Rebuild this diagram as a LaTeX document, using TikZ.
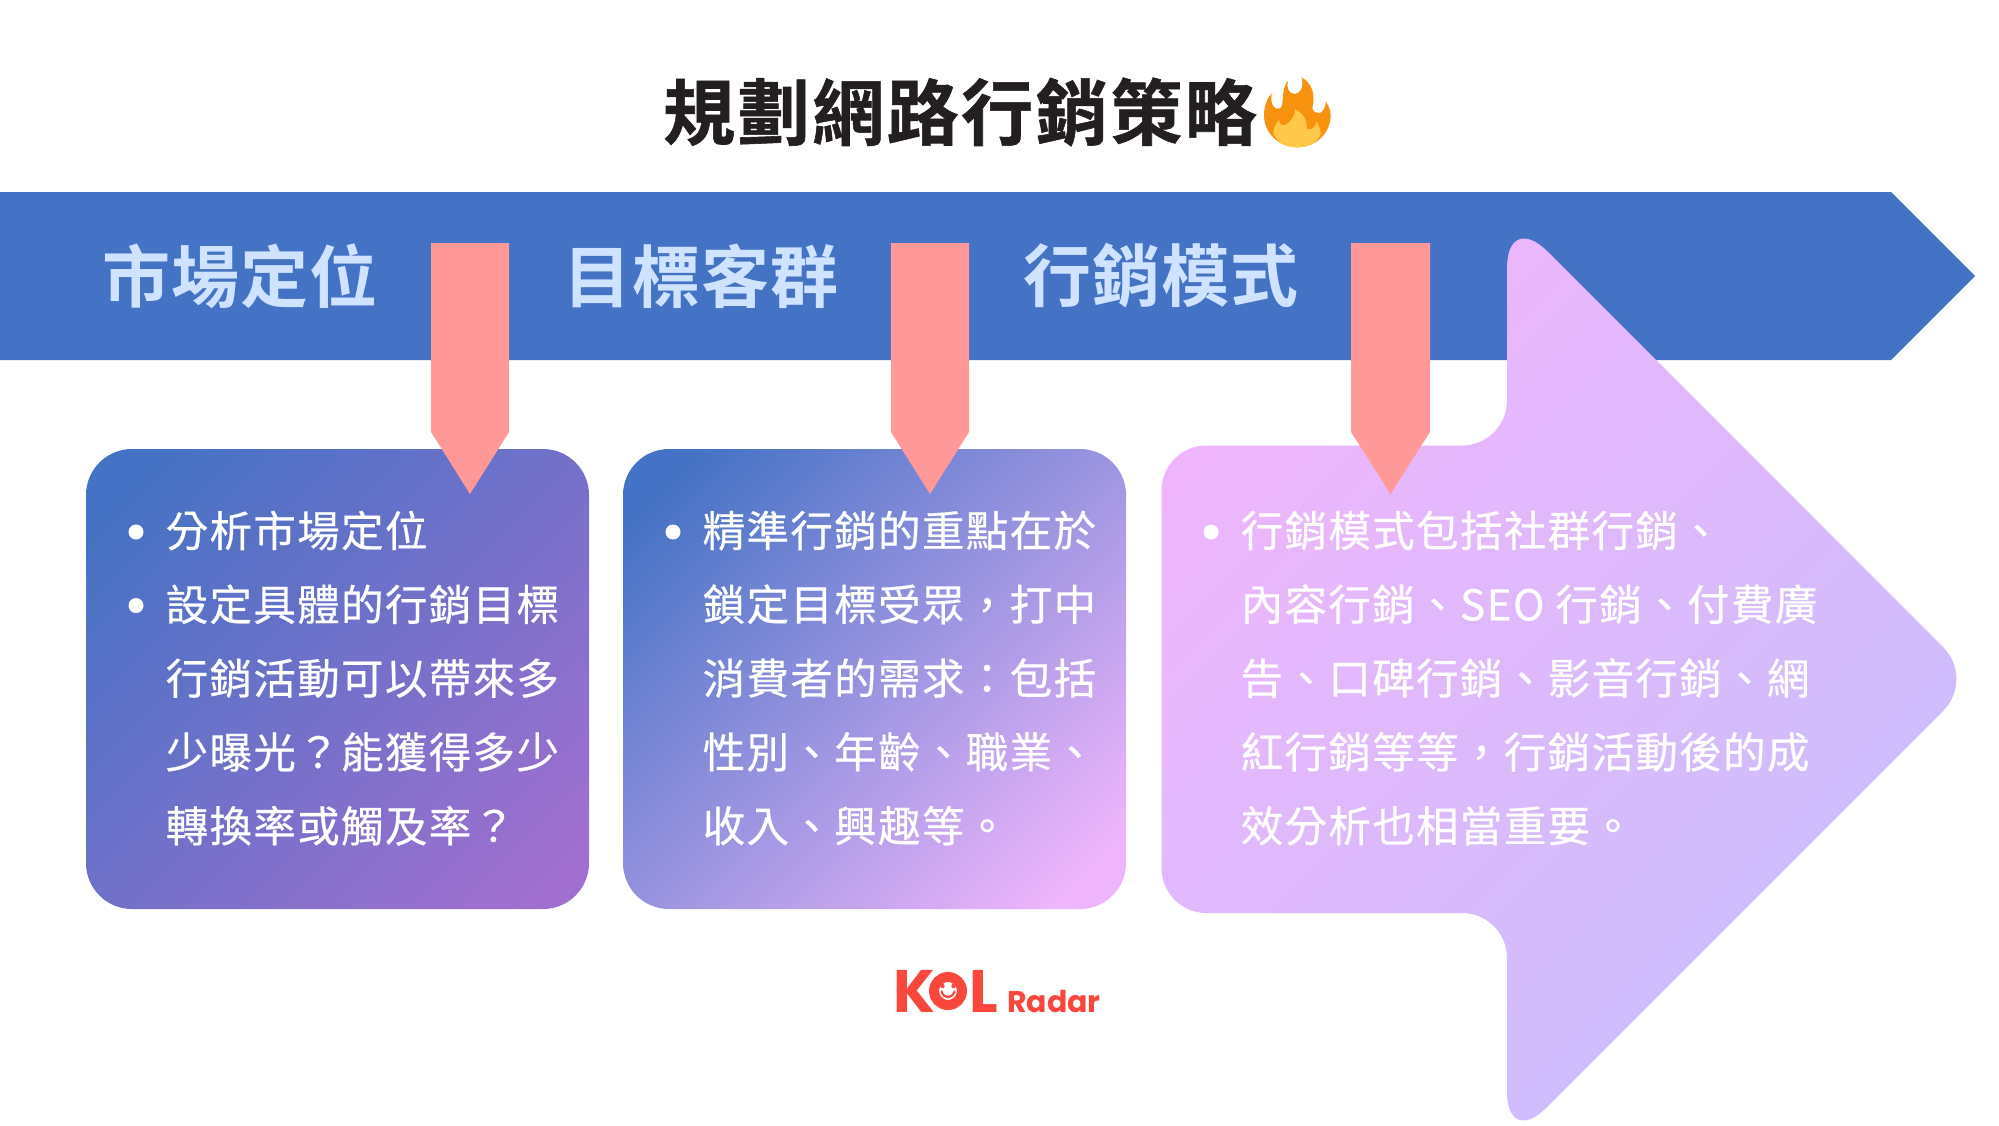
\documentclass[tikz,border=0pt]{standalone}
\usepackage{fontspec}
\setmainfont{Noto Sans CJK TC}
\newfontfamily\bodyfont[LetterSpace=3.2,BoldFont={Noto Sans CJK TC},BoldFeatures={FakeBold=0.5}]{Noto Sans CJK TC}
\newfontfamily\headfont[LetterSpace=1.5,BoldFont={Noto Sans CJK TC Bold}]{Noto Sans CJK TC}
\newfontfamily\titlefont[LetterSpace=3.5,BoldFont={Noto Sans CJK TC Bold},BoldFeatures={FakeBold=0.8}]{Noto Sans CJK TC}
\newfontfamily\logofont{Poppins}
\usetikzlibrary{calc}
\definecolor{bandblue}{HTML}{4472C4}
\definecolor{pinkptr}{HTML}{FF9999}
\definecolor{headblue}{HTML}{CFE2FF}
\definecolor{purpleend}{HTML}{A06FCF}
\definecolor{pinklight}{HTML}{EFB5FC}
\definecolor{lilac}{HTML}{C8BEFC}
\definecolor{titleblack}{HTML}{231F20}
\definecolor{logored}{HTML}{F9473B}
\definecolor{flameorange}{HTML}{F7920F}
\definecolor{flameyellow}{HTML}{FFC84A}
\pgfdeclareverticalshading{boxonefade}{100bp}{color(0bp)=(purpleend); color(20bp)=(purpleend); color(80bp)=(bandblue); color(100bp)=(bandblue)}
\pgfdeclareverticalshading{boxtwofade}{100bp}{color(0bp)=(pinklight); color(20bp)=(pinklight); color(80bp)=(bandblue); color(100bp)=(bandblue)}
\tikzset{
  x=1pt,y=-1pt,
  pointer/.style={fill=pinkptr,draw=none},
  boxone/.style={rounded corners=46pt,shading=boxonefade,shading angle=45},
  boxtwo/.style={rounded corners=46pt,shading=boxtwofade,shading angle=45},
  bodytext/.style={anchor=north west,inner sep=0pt,text=white,align=left,font=\bodyfont\bfseries\fontsize{42.5}{73.8}\selectfont},
  headtext/.style={anchor=west,inner sep=0pt,text=headblue,font=\headfont\bfseries\fontsize{68}{72}\selectfont},
  bulletdot/.style={circle,fill=white,inner sep=0pt,minimum size=15pt},
}
\begin{document}
\begin{tikzpicture}
\useasboundingbox (0,0) rectangle (1999,1125);
\fill[white] (0,0) rectangle (1999,1125);
% band
\fill[bandblue] (0,192) -- (1891,192) -- (1975,276) -- (1891,360) -- (0,360) -- cycle;
% boxes
\path[boxone] (86,449) rectangle (589,909);
\path[boxtwo] (623,449) rectangle (1126,909);
% big arrow
\path[shading=axis,left color=pinklight,right color=lilac,shading angle=45]
  (1161.5,680) [rounded corners=45pt] -- (1161.5,445.5) -- (1507,445.5) [rounded corners=57pt] -- (1507,211) [rounded corners=45pt] -- (1975,679) [rounded corners=55pt] -- (1507,1147) [rounded corners=45pt] -- (1507,913) -- (1161.5,913) -- cycle;
% pointers
\fill[pointer] (431,243) -- (509,243) -- (509,432) -- (470,494) -- (431,432) -- cycle;
\fill[pointer] (891,243) -- (969,243) -- (969,432) -- (930,494) -- (891,432) -- cycle;
\fill[pointer] (1351,243) -- (1430,243) -- (1430,432) -- (1390.5,494) -- (1351,432) -- cycle;
% headers
\node[headtext] (h1) at (102,276) {市場定位};
\node[headtext] (h2) at (563,276) {目標客群};
\node[headtext] (h3) at (1023,276) {行銷模式};
% title
\node[anchor=west,inner sep=0pt,text=titleblack,font=\titlefont\bfseries\fontsize{72}{76}\selectfont] (title) at (663,112) {規劃網路行銷策略};
% flame
\begin{scope}[shift={(1255,70)},x=0.3333pt,y=-0.3333pt]
\fill[flameorange] (140,22) .. controls (170,40) and (182,70) .. (172,115)
 .. controls (178,135) and (208,140) .. (213,95)
 .. controls (222,110) and (227,122) .. (227,135)
 .. controls (227,190) and (182,232) .. (127,232)
 .. controls (72,232) and (27,190) .. (27,135)
 .. controls (27,110) and (36,85) .. (50,70)
 .. controls (44,105) and (60,122) .. (75,115)
 .. controls (90,105) and (75,60) .. (100,30)
 .. controls (92,55) and (102,72) .. (120,72)
 .. controls (138,70) and (146,50) .. (140,22) -- cycle;
\fill[flameyellow] (120,118) .. controls (122,140) and (95,172) .. (80,165)
 .. controls (74,162) and (72,155) .. (72,150)
 .. controls (62,162) and (55,175) .. (55,192)
 .. controls (70,222) and (98,232) .. (127,232)
 .. controls (158,232) and (185,220) .. (197,192)
 .. controls (196,175) and (190,165) .. (185,155)
 .. controls (182,172) and (165,185) .. (155,175)
 .. controls (158,150) and (142,128) .. (120,118) -- cycle;
\end{scope}
% body
\node[bulletdot] (b1a) at (136,532) {};
\node[bulletdot] (b1b) at (136,605.5) {};
\node[bulletdot] (b2a) at (673,532) {};
\node[bulletdot] (b3a) at (1211,532) {};
\node[bodytext] (t1) at (165.5,510.5) {分析市場定位\\設定具體的行銷目標\\行銷活動可以帶來多\\少曝光？能獲得多少\\轉換率或觸及率？};
\node[bodytext] (t2) at (702.5,510.5) {精準行銷的重點在於\\鎖定目標受眾，打中\\消費者的需求：包括\\性別、年齡、職業、\\收入、興趣等。};
\node[bodytext] (t3) at (1240.5,510.5) {行銷模式包括社群行銷、\\內容行銷、SEO 行銷、付費廣\\告、口碑行銷、影音行銷、網\\紅行銷等等，行銷活動後的成\\效分析也相當重要。};
% logo
\node[anchor=base west,inner sep=0pt,text=logored,font=\logofont\bfseries\fontsize{60}{60}\selectfont] (lk) at (893,1012) {K};
\node[circle,draw=logored,line width=10pt,fill=white,minimum size=28pt,inner sep=0pt] (lo) at (948,991) {};
\fill[logored] (942.5,986) circle (2.2) (953.5,986) circle (2.2);
\draw[logored,line width=2.2pt,line cap=round] (941.5,991.5) .. controls (944,999) and (952,999) .. (954.5,991.5);
\node[anchor=base west,inner sep=0pt,text=logored,font=\logofont\bfseries\fontsize{60}{60}\selectfont] (ll) at (969,1012) {L};
\node[anchor=base west,inner sep=0pt,text=logored,font=\logofont\bfseries\fontsize{30}{30}\selectfont] (lr) at (1007,1012) {Radar};
\end{tikzpicture}
\end{document}
